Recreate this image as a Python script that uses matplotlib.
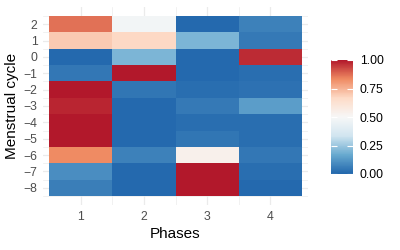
import numpy as np
import matplotlib
matplotlib.use("Agg")
from matplotlib import pyplot as plt
from matplotlib.colors import LinearSegmentedColormap

plt.rcParams['font.family'] = ['Liberation Sans', 'DejaVu Sans']

# phases (x) and menstrual cycle (y)
phases = [1, 2, 3, 4]
cycle = [-8, -7, -6, -5, -4, -3, -2, -1, 0, 1, 2]

# values per phase, listed from cycle -8 up to 2
phase1 = [0.06, 0.10, 0.83, 1.00, 1.00, 0.98, 1.00, 0.045, 0.01, 0.70, 0.87]
phase2 = [0.01, 0.01, 0.07, 0.01, 0.01, 0.01, 0.04, 1.00, 0.20, 0.67, 0.48]
phase3 = [1.00, 1.00, 0.54, 0.04, 0.02, 0.05, 0.02, 0.01, 0.01, 0.20, 0.01]
phase4 = [0.01, 0.02, 0.045, 0.02, 0.02, 0.14, 0.03, 0.02, 0.97, 0.05, 0.07]

cbar_ticks = [0.0, 0.25, 0.5, 0.75, 1.0]
cbar_labels = ["0.00", "0.25", "0.50", "0.75", "1.00"]

vals = np.array([phase1, phase2, phase3, phase4]).T

# RdBu distiller palette (7 classes), reversed so low = blue
rdbu = ["#2166AC", "#67A9CF", "#D1E5F0", "#F7F7F7", "#FDDBC7", "#EF8A62", "#B2182B"]
cmap = LinearSegmentedColormap.from_list("rdbu", rdbu)

fig = plt.figure(figsize=(4, 2.5), dpi=100)
ax = fig.add_axes([0.1075, 0.18, 0.6625, 0.792])

x_edges = np.append(np.array(phases) - 0.5, phases[-1] + 0.5)
y_edges = np.append(np.array(cycle) - 0.5, cycle[-1] + 0.5)
mesh = ax.pcolormesh(x_edges, y_edges, vals, cmap=cmap, vmin=0, vmax=1,
                     shading="flat", zorder=2, antialiased=False)

ax.set_xlim(0.405, 4.595)
ax.set_ylim(-9.05, 3.05)
ax.set_xticks(phases)
ax.set_yticks(cycle)
ax.set_yticks(np.arange(-8.5, 3, 1), minor=True)
ax.set_xticks([1.5, 2.5, 3.5], minor=True)

ax.grid(True, which="major", color="#EBEBEB", linewidth=0.9, zorder=0)
ax.grid(True, which="minor", color="#EBEBEB", linewidth=0.5, zorder=0)
ax.set_axisbelow(True)
for s in ax.spines.values():
    s.set_visible(False)
ax.tick_params(which="both", length=0, labelsize=8.8, labelcolor="#4D4D4D", pad=4)

ax.set_xlabel("Phases", fontsize=11, labelpad=3)
ax.set_ylabel("Menstrual cycle", fontsize=11, labelpad=3)

cax = fig.add_axes([331 / 400, 1 - 174 / 250, 22 / 400, 114 / 250])
cb = fig.colorbar(mesh, cax=cax, ticks=cbar_ticks)
cb.outline.set_visible(False)
cax.tick_params(left=True, right=True, direction="in", color="white",
                length=4, width=0.8, labelsize=8.8, pad=5)
cax.set_yticklabels(cbar_labels)

fig.savefig("out.png", dpi=100)
